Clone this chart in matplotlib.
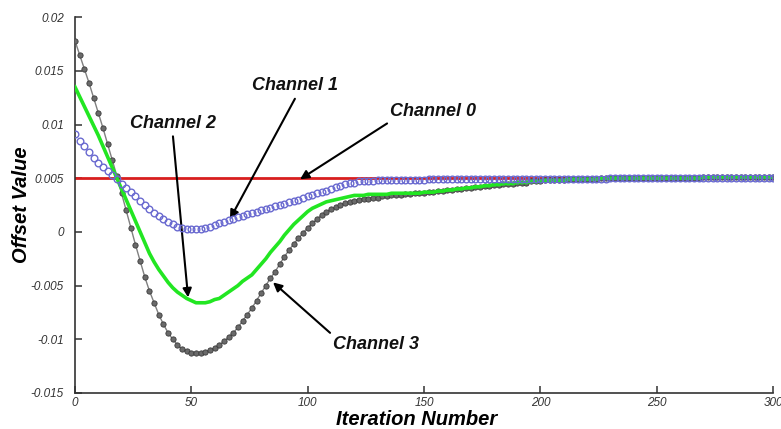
import matplotlib
matplotlib.use("Agg")
import matplotlib.pyplot as plt

plt.rcParams["font.family"] = ["Liberation Sans", "DejaVu Sans"]

# iteration index (one sample every 2 iterations)
iterations = list(range(0, 301, 2))

channel0 = [0.005] * len(iterations)

channel1 = [
    0.0091, 0.0085, 0.0080, 0.0074, 0.0069, 0.0064, 0.0060, 0.0057, 0.0053, 0.0049,
    0.0045, 0.0041, 0.0037, 0.0033, 0.0029, 0.0025, 0.0021, 0.0018, 0.0015, 0.0012,
    0.0009, 0.0007, 0.0005, 0.0004, 0.0003, 0.0003, 0.0003, 0.0003, 0.0004, 0.0005,
    0.0006, 0.0008, 0.0009, 0.0011, 0.0012, 0.0014, 0.0015, 0.0017, 0.0018, 0.0019,
    0.0020, 0.0021, 0.0022, 0.0024, 0.0025, 0.0026, 0.0028, 0.0029, 0.0030, 0.0032,
    0.0033, 0.0034, 0.0036, 0.0037, 0.0038, 0.0040, 0.0042, 0.0043, 0.0045, 0.0046,
    0.0046, 0.0047, 0.0047, 0.0047, 0.0047, 0.0048, 0.0048, 0.0048, 0.0048, 0.0048,
    0.0048, 0.0048, 0.0048, 0.0048, 0.0048, 0.0048, 0.0049, 0.0049, 0.0049, 0.0049,
    0.0049, 0.0049, 0.0049, 0.0049, 0.0049, 0.0049, 0.0049, 0.0049, 0.0049, 0.0049,
    0.0049, 0.0049, 0.0049, 0.0049, 0.0049, 0.0049, 0.0049, 0.0049, 0.0049, 0.0049,
    0.0049, 0.0049, 0.0049, 0.0049, 0.0049, 0.0049, 0.0049, 0.0049, 0.0049, 0.0049,
    0.0049, 0.0049, 0.0049, 0.0049, 0.0049, 0.0050, 0.0050, 0.0050, 0.0050, 0.0050,
    0.0050, 0.0050, 0.0050, 0.0050, 0.0050, 0.0050, 0.0050, 0.0050, 0.0050, 0.0050,
    0.0050, 0.0050, 0.0050, 0.0050, 0.0050, 0.0050, 0.0050, 0.0050, 0.0050, 0.0050,
    0.0050, 0.0050, 0.0050, 0.0050, 0.0050, 0.0050, 0.0050, 0.0050, 0.0050, 0.0050,
    0.0050,
]

channel2 = [
    0.0135, 0.0126, 0.0117, 0.0108, 0.0099, 0.0090, 0.0080, 0.0070, 0.0060, 0.0050,
    0.0040, 0.0030, 0.0020, 0.0010, 0.0000, -0.0010, -0.0020, -0.0028, -0.0035, -0.0041,
    -0.0047, -0.0052, -0.0056, -0.0059, -0.0062, -0.0064, -0.0066, -0.0066, -0.0066, -0.0065,
    -0.0063, -0.0062, -0.0059, -0.0056, -0.0053, -0.0050, -0.0046, -0.0043, -0.0040, -0.0035,
    -0.0030, -0.0025, -0.0019, -0.0014, -0.0009, -0.0003, 0.0002, 0.0007, 0.0011, 0.0015,
    0.0019, 0.0022, 0.0024, 0.0026, 0.0028, 0.0029, 0.0030, 0.0031, 0.0032, 0.0033,
    0.0034, 0.0034, 0.0034, 0.0035, 0.0035, 0.0035, 0.0035, 0.0035, 0.0036, 0.0036,
    0.0036, 0.0036, 0.0036, 0.0036, 0.0036, 0.0037, 0.0037, 0.0037, 0.0038, 0.0038,
    0.0039, 0.0039, 0.0040, 0.0040, 0.0041, 0.0041, 0.0042, 0.0042, 0.0043, 0.0043,
    0.0044, 0.0044, 0.0045, 0.0045, 0.0045, 0.0046, 0.0046, 0.0046, 0.0047, 0.0047,
    0.0047, 0.0048, 0.0048, 0.0048, 0.0048, 0.0048, 0.0049, 0.0049, 0.0049, 0.0049,
    0.0049, 0.0049, 0.0049, 0.0050, 0.0050, 0.0050, 0.0050, 0.0050, 0.0050, 0.0050,
    0.0050, 0.0050, 0.0050, 0.0050, 0.0050, 0.0050, 0.0050, 0.0050, 0.0050, 0.0050,
    0.0050, 0.0050, 0.0050, 0.0050, 0.0050, 0.0051, 0.0051, 0.0051, 0.0051, 0.0051,
    0.0051, 0.0051, 0.0051, 0.0051, 0.0051, 0.0051, 0.0051, 0.0051, 0.0051, 0.0051,
    0.0051,
]

channel3 = [
    0.0178, 0.0165, 0.0152, 0.0139, 0.0125, 0.0111, 0.0097, 0.0082, 0.0067, 0.0052,
    0.0036, 0.0020, 0.0004, -0.0012, -0.0027, -0.0042, -0.0055, -0.0066, -0.0077, -0.0086,
    -0.0094, -0.0100, -0.0105, -0.0109, -0.0111, -0.0113, -0.0113, -0.0113, -0.0112, -0.0110,
    -0.0108, -0.0105, -0.0102, -0.0098, -0.0094, -0.0089, -0.0083, -0.0077, -0.0071, -0.0064,
    -0.0057, -0.0050, -0.0043, -0.0037, -0.0030, -0.0023, -0.0017, -0.0011, -0.0006, -0.0001,
    0.0004, 0.0008, 0.0012, 0.0016, 0.0019, 0.0021, 0.0023, 0.0025, 0.0027, 0.0028,
    0.0029, 0.0030, 0.0031, 0.0031, 0.0032, 0.0032, 0.0033, 0.0033, 0.0034, 0.0034,
    0.0034, 0.0035, 0.0035, 0.0036, 0.0036, 0.0036, 0.0037, 0.0037, 0.0038, 0.0038,
    0.0039, 0.0039, 0.0040, 0.0040, 0.0041, 0.0041, 0.0042, 0.0042, 0.0043, 0.0043,
    0.0044, 0.0044, 0.0045, 0.0045, 0.0045, 0.0046, 0.0046, 0.0046, 0.0047, 0.0047,
    0.0047, 0.0048, 0.0048, 0.0048, 0.0048, 0.0048, 0.0049, 0.0049, 0.0049, 0.0049,
    0.0049, 0.0049, 0.0049, 0.0050, 0.0050, 0.0050, 0.0050, 0.0050, 0.0050, 0.0050,
    0.0050, 0.0050, 0.0050, 0.0050, 0.0050, 0.0050, 0.0050, 0.0050, 0.0050, 0.0050,
    0.0050, 0.0050, 0.0050, 0.0050, 0.0050, 0.0051, 0.0051, 0.0051, 0.0051, 0.0051,
    0.0051, 0.0051, 0.0051, 0.0051, 0.0051, 0.0051, 0.0051, 0.0051, 0.0051, 0.0051,
    0.0051,
]

x_ticks = [0, 50, 100, 150, 200, 250, 300]
y_ticks = [-0.015, -0.01, -0.005, 0, 0.005, 0.01, 0.015, 0.02]
y_tick_labels = ["-0.015", "-0.01", "-0.005", "0", "0.005", "0.01", "0.015", "0.02"]

figure = plt.figure(figsize=(7.81, 4.29), dpi=100)
axes = figure.add_axes([0.096, 0.084, 0.894, 0.876])

axes.plot(iterations, channel0, color="#d81e1e", linewidth=2, zorder=2)
axes.plot(iterations, channel3, color="#808080", linewidth=1,
          marker="o", markersize=3.8, markerfacecolor="#6a6a6a",
          markeredgecolor="#3a3a3a", markeredgewidth=0.6, zorder=3)
axes.plot(iterations, channel2, color="#22e622", linewidth=2.6, zorder=4)
axes.plot(iterations, channel1, color="#6a6ad0", linestyle="none",
          marker="o", markersize=4.8, markerfacecolor="none",
          markeredgewidth=1.0, zorder=5)

axes.set_xlim(0, 300)
axes.set_ylim(-0.015, 0.02)
axes.set_xticks(x_ticks)
axes.set_xticklabels([str(t) for t in x_ticks])
axes.set_yticks(y_ticks)
axes.set_yticklabels(y_tick_labels)

for side in ("top", "right"):
    axes.spines[side].set_visible(False)
for side in ("left", "bottom"):
    axes.spines[side].set_linewidth(1.2)
    axes.spines[side].set_color("#333333")

axes.tick_params(direction="in", length=5, width=1.1, color="#333333",
                 labelsize=8.5, labelcolor="#333333", pad=3)
axes.tick_params(axis="y", pad=8)
for label in axes.get_xticklabels() + axes.get_yticklabels():
    label.set_fontstyle("italic")

axes.set_xlabel("Iteration Number", fontsize=14.5, fontweight="bold",
                fontstyle="italic")
axes.xaxis.set_label_coords(0.49, -0.07, transform=axes.transAxes)
axes.xaxis.label.set_va("center")
axes.set_ylabel("Offset Value", fontsize=14.5, fontweight="bold",
                fontstyle="italic")
axes.yaxis.set_label_coords(-0.076, 0.5, transform=axes.transAxes)
axes.yaxis.label.set_va("center")

arrow_style = dict(arrowstyle="-|>", color="black", linewidth=1.5,
                   mutation_scale=13, shrinkA=0, shrinkB=0)
text_style = dict(fontsize=13, fontweight="bold", fontstyle="italic",
                  ha="center", va="center", color="#111111")

axes.annotate("", xy=(96.7, 0.0049), xytext=(134.1, 0.0101), arrowprops=arrow_style)
axes.text(153.8, 0.0112, "Channel 0", **text_style)

axes.annotate("", xy=(66.6, 0.0012), xytext=(94.5, 0.0124), arrowprops=arrow_style)
axes.text(94.5, 0.0136, "Channel 1", **text_style)

axes.annotate("", xy=(48.6, -0.0061), xytext=(42.1, 0.0089), arrowprops=arrow_style)
axes.text(42.1, 0.0101, "Channel 2", **text_style)

axes.annotate("", xy=(85.1, -0.0047), xytext=(109.6, -0.0094), arrowprops=arrow_style)
axes.text(129.4, -0.0105, "Channel 3", **text_style)

figure.savefig("out.png", dpi=100)
